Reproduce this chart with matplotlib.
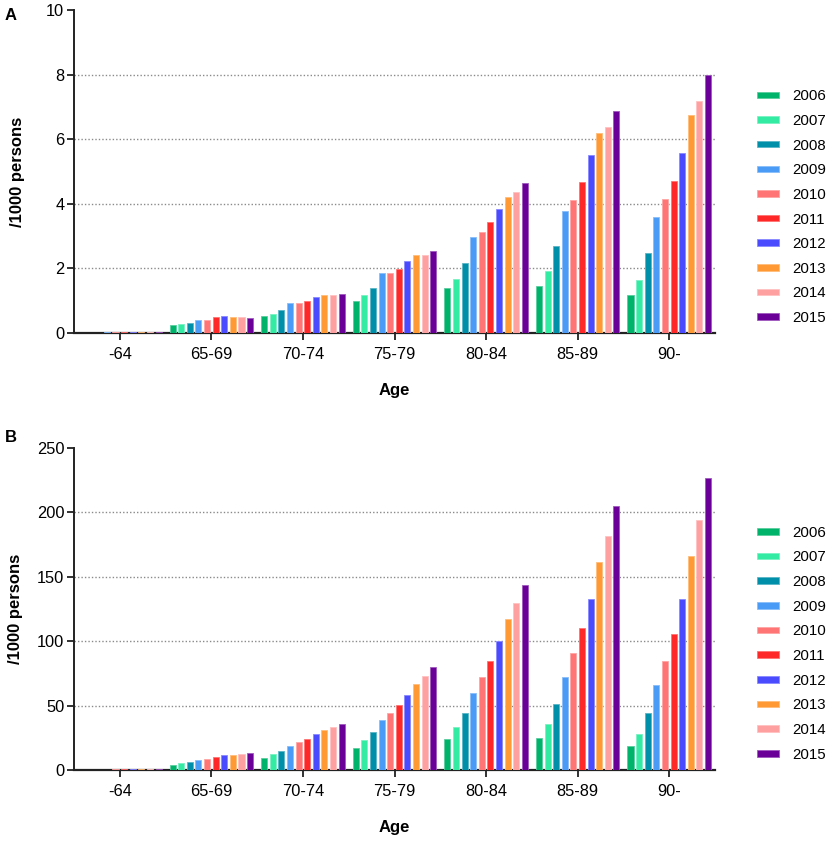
import matplotlib
matplotlib.use('Agg')
import matplotlib.pyplot as plt
import numpy as np

plt.rcParams['font.family'] = ['Liberation Sans', 'DejaVu Sans']

ages = ['-64', '65-69', '70-74', '75-79', '80-84', '85-89', '90-']
years = ['2006', '2007', '2008', '2009', '2010', '2011', '2012', '2013', '2014', '2015']
colors = ['#00b36b', '#33eba3', '#008fa8', '#4a9bf5', '#ff7474',
          '#ff2828', '#4a4aff', '#ff9933', '#ffa0a0', '#6b0099']

# panel A : rows = years, cols = age groups
rate_a = [
    [0.01, 0.25, 0.54, 0.98, 1.38, 1.45, 1.19],
    [0.01, 0.28, 0.59, 1.16, 1.68, 1.91, 1.65],
    [0.01, 0.30, 0.70, 1.39, 2.18, 2.70, 2.49],
    [0.02, 0.40, 0.92, 1.87, 2.96, 3.77, 3.60],
    [0.02, 0.39, 0.92, 1.87, 3.12, 4.11, 4.16],
    [0.02, 0.48, 1.00, 1.99, 3.42, 4.68, 4.72],
    [0.03, 0.52, 1.12, 2.24, 3.85, 5.50, 5.57],
    [0.02, 0.48, 1.16, 2.41, 4.21, 6.19, 6.75],
    [0.02, 0.48, 1.17, 2.41, 4.35, 6.37, 7.17],
    [0.04, 0.46, 1.22, 2.53, 4.64, 6.88, 7.99],
]

# panel B
rate_b = [
    [0.2, 4.1, 9.6, 17.3, 24.0, 24.8, 18.9],
    [0.2, 5.4, 12.4, 23.3, 33.1, 35.7, 28.2],
    [0.3, 6.2, 14.5, 29.2, 44.2, 50.9, 44.2],
    [0.3, 7.8, 18.9, 38.8, 59.7, 72.1, 66.2],
    [0.4, 8.8, 21.5, 44.5, 71.9, 90.5, 84.5],
    [0.4, 9.8, 24.0, 50.2, 84.5, 109.9, 105.2],
    [0.5, 11.6, 27.9, 58.2, 100.3, 133.1, 132.6],
    [0.5, 11.9, 31.0, 67.0, 117.1, 161.1, 166.3],
    [0.5, 12.4, 33.6, 72.6, 129.5, 182.0, 194.4],
    [0.9, 13.2, 35.9, 79.6, 143.7, 205.0, 226.5],
]


def lighten(c, f=0.35):
    rgb = np.array(matplotlib.colors.to_rgb(c))
    return tuple(rgb + (1 - rgb) * f)


def draw_panel(ax, data, ymax, step, letter, letter_y, leg_y, ylab_x):
    x = np.arange(len(ages))
    n = len(years)
    gap = 0.094
    width = 0.066
    for i in range(n):
        ax.bar(x + (i - (n - 1) / 2) * gap, data[i], width, color=colors[i],
               edgecolor=lighten(colors[i]), linewidth=0.6, label=years[i], zorder=3)

    ax.set_xlim(-0.5, len(ages) - 0.5)
    ax.set_ylim(0, ymax)
    ax.set_yticks(np.arange(0, ymax + step / 2, step))
    ax.set_xticks(x)
    ax.set_xticklabels(ages)
    ax.tick_params(axis='both', labelsize=11.8, width=1.3, length=5, color='#222222')
    ax.tick_params(axis='x', pad=5)
    ax.tick_params(axis='y', pad=2)
    ax.spines['top'].set_visible(False)
    ax.spines['right'].set_visible(False)
    ax.spines['left'].set_linewidth(1.4)
    ax.spines['bottom'].set_linewidth(1.6)
    ax.spines['left'].set_color('#222222')
    ax.spines['bottom'].set_color('#222222')
    ax.yaxis.grid(True, linestyle=(0, (1, 1.5)), color='#8a8a8a', linewidth=1.0, zorder=0)
    gl = ax.yaxis.get_gridlines()
    gl[0].set_visible(False)
    gl[-1].set_visible(False)
    ax.set_axisbelow(True)

    ax.set_ylabel('/1000 persons', fontsize=12, fontweight='bold')
    ax.yaxis.set_label_coords(ylab_x, 0.5)
    ax.set_xlabel('Age', fontsize=12, fontweight='bold', labelpad=15)

    ax.legend(loc='upper left', bbox_to_anchor=(1.056, leg_y), frameon=False,
              fontsize=10.8, handlelength=1.5, handleheight=0.3,
              labelspacing=0.71, handletextpad=0.85, borderaxespad=0)
    ax.text(-0.108, letter_y, letter, transform=ax.transAxes, fontsize=12,
            fontweight='bold', ha='left', va='top')


fig = plt.figure(figsize=(8.29, 8.44), dpi=100)
ax1 = fig.add_axes([0.0893, 0.6055, 0.7732, 0.3827])
ax2 = fig.add_axes([0.0893, 0.0877, 0.7732, 0.3815])

draw_panel(ax1, rate_a, 10, 2, 'A', 1.006, 0.773, -0.076)
draw_panel(ax2, rate_b, 250, 50, 'B', 1.056, 0.777, -0.080)

fig.savefig('out.png', dpi=100)
